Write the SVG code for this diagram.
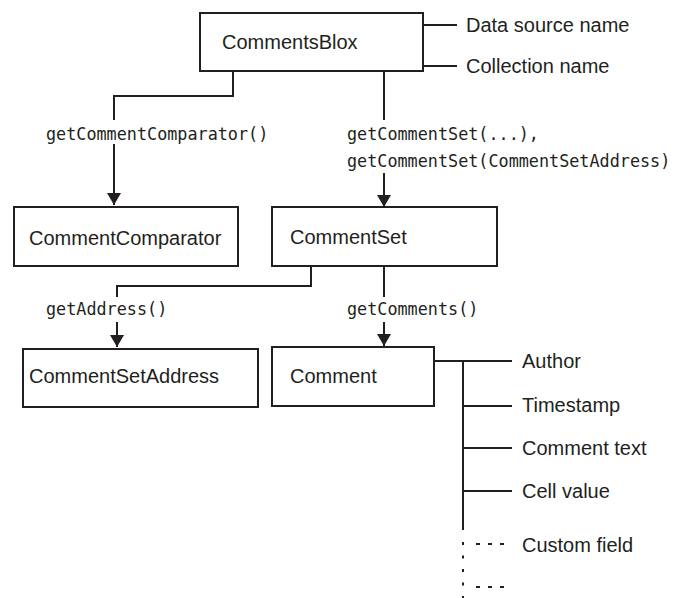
<svg xmlns="http://www.w3.org/2000/svg" width="674" height="598" viewBox="0 0 674 598">
  <style>
    .box { fill: #fff; stroke: #231f20; stroke-width: 2; }
    .name { font-family: "Liberation Sans", Arial, sans-serif; font-size: 20px; fill: #231f20; }
    .code { font-family: "DejaVu Sans Mono", "Liberation Mono", monospace; font-size: 16.8px; fill: #231f20; }
    .wire { fill: none; stroke: #231f20; stroke-width: 2; }
    .dots { fill: none; stroke: #231f20; stroke-width: 2; stroke-dasharray: 3 10.5; }
    .dash { fill: none; stroke: #231f20; stroke-width: 2; stroke-dasharray: 4 8; }
  </style>
  <defs>
    <marker id="arrow" markerUnits="userSpaceOnUse" markerWidth="16" markerHeight="14" refX="7.5" refY="12" orient="0">
      <polygon points="0.5,0 14.5,0 7.5,12" fill="#231f20"/>
    </marker>
  </defs>
  <rect width="674" height="598" fill="#fff"/>

  <!-- connectors -->
  <g id="connectors">
    <!-- CommentsBlox attributes -->
    <path class="wire" d="M423 25 H457 M423 66 H457"/>
    <!-- CommentsBlox -> CommentComparator -->
    <path class="wire" d="M233 71 V96 H114 V120"/>
    <path class="wire" d="M114 144 V205" marker-end="url(#arrow)"/>
    <!-- CommentsBlox -> CommentSet -->
    <path class="wire" d="M384 71 V120"/>
    <path class="wire" d="M384 173 V207" marker-end="url(#arrow)"/>
    <!-- CommentSet -> CommentSetAddress -->
    <path class="wire" d="M311 266 V286 H117 V297"/>
    <path class="wire" d="M117 322 V347" marker-end="url(#arrow)"/>
    <!-- CommentSet -> Comment -->
    <path class="wire" d="M384 266 V297"/>
    <path class="wire" d="M384 322 V346" marker-end="url(#arrow)"/>
    <!-- Comment fields -->
    <path class="wire" d="M434 361 H512 M463 361 V530 M463 406 H512 M463 448 H512 M463 491 H512"/>
    <path class="dots" d="M463 542 V598"/>
    <path class="dash" d="M476 544 H510 M476 587 H510"/>
  </g>

  <g id="comments-blox">
    <rect class="box" x="200" y="13" width="223" height="58"/>
    <text class="name" x="222" y="49">CommentsBlox</text>
  </g>
  <text class="name" x="466" y="32">Data source name</text>
  <text class="name" x="466" y="73">Collection name</text>

  <text class="code" x="46" y="140">getCommentComparator()</text>
  <text class="code" x="347" y="140">getCommentSet(...),</text>
  <text class="code" x="347" y="167">getCommentSet(CommentSetAddress)</text>

  <g id="comment-comparator">
    <rect class="box" x="14" y="207" width="224" height="59"/>
    <text class="name" x="29" y="245">CommentComparator</text>
  </g>
  <g id="comment-set">
    <rect class="box" x="272" y="207" width="225" height="59"/>
    <text class="name" x="290" y="244">CommentSet</text>
  </g>

  <text class="code" x="46" y="315">getAddress()</text>
  <text class="code" x="347" y="315">getComments()</text>

  <g id="comment-set-address">
    <rect class="box" x="23" y="349" width="235" height="58"/>
    <text class="name" x="29" y="383">CommentSetAddress</text>
  </g>
  <g id="comment">
    <rect class="box" x="272" y="347" width="162" height="59"/>
    <text class="name" x="290" y="383">Comment</text>
  </g>

  <text class="name" x="522" y="368">Author</text>
  <text class="name" x="522" y="412">Timestamp</text>
  <text class="name" x="522" y="455">Comment text</text>
  <text class="name" x="522" y="498">Cell value</text>
  <text class="name" x="522" y="552">Custom field</text>
</svg>
